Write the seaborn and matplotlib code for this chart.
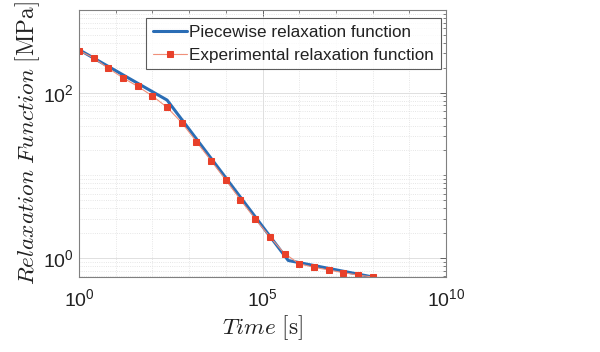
import numpy as np
import pandas as pd
import matplotlib
matplotlib.use("Agg")
import matplotlib.pyplot as plt
import matplotlib.ticker as mticker
import seaborn as sns

# Data
exp_time = [1, 2.51, 6.31, 15.8, 39.8, 100, 251, 631, 1585, 3981, 1.0e4,
            2.51e4, 6.31e4, 1.585e5, 3.98e5, 1.0e6, 2.51e6, 6.31e6, 1.585e7,
            3.98e7, 1.0e8]
exp_G = [323, 263, 197, 151, 119, 91.2, 66.4, 43.3, 25.5, 15.0, 8.75,
         5.05, 2.97, 1.80, 1.13, 0.853, 0.771, 0.716, 0.664, 0.622, 0.589]
pw_time = [1, 251, 5.01e5, 1.0e8]
pw_G = [331, 81.3, 0.933, 0.589]

series_names = ["Piecewise relaxation function", "Experimental relaxation function"]
x_ticks = [1, 1e5, 1e10]
y_ticks = [1, 100]

sns.set_theme(style="white")
plt.rcParams['font.family'] = ['Liberation Sans', 'DejaVu Sans']

fig = plt.figure(figsize=(6, 3.52), dpi=100)
ax = fig.add_axes([0.1317, 0.2131, 0.6117, 0.7585])
ax.set_xscale('log')
ax.set_yscale('log')

df_pw = pd.DataFrame({"t": pw_time, "G": pw_G})
df_exp = pd.DataFrame({"t": exp_time, "G": exp_G})

sns.lineplot(data=df_pw, x="t", y="G", ax=ax, color="#2a6db5", linewidth=2.2,
             label=series_names[0], estimator=None, sort=False)
sns.lineplot(data=df_exp, x="t", y="G", ax=ax, color="#f0907a", linewidth=0.8,
             marker='s', markersize=4.6, markerfacecolor="#e8402a",
             markeredgecolor="#e8402a", label=series_names[1],
             estimator=None, sort=False)

ax.set_xlim(1, 1e10)
ax.set_ylim(min(exp_G), 1000)

ax.xaxis.set_major_locator(mticker.FixedLocator(x_ticks))
ax.yaxis.set_major_locator(mticker.FixedLocator(y_ticks))
ax.xaxis.set_major_formatter(mticker.LogFormatterSciNotation())
ax.yaxis.set_major_formatter(mticker.LogFormatterSciNotation())
ax.xaxis.set_minor_locator(mticker.LogLocator(base=10, subs=(1.0,), numticks=20))
ax.yaxis.set_minor_locator(mticker.LogLocator(base=10, subs=np.arange(1, 10), numticks=20))
ax.xaxis.set_minor_formatter(mticker.NullFormatter())
ax.yaxis.set_minor_formatter(mticker.NullFormatter())

ax.tick_params(which='both', direction='in', top=True, right=True,
               color='#4d4d4d', labelsize=14, labelcolor='#222222')
ax.tick_params(which='major', length=4, width=0.6)
ax.tick_params(which='minor', length=2.5, width=0.5)
ax.tick_params(axis='x', pad=8)

ax.grid(which='major', color='#e0e0e0', linewidth=0.7, linestyle='-')
ax.grid(which='minor', color='#dedede', linewidth=0.6, linestyle=':')
ax.set_axisbelow(True)

for s in ax.spines.values():
    s.set_color('#808080')
    s.set_linewidth(0.8)

ax.set_xlabel(r'$Time\ [\mathrm{s}]$', math_fontfamily='cm', fontsize=16.8,
              color='#222222', labelpad=2)
ax.set_ylabel(r'$Relaxation\ Function\ [\mathrm{MPa}]$', math_fontfamily='cm',
              fontsize=16.8, color='#222222', labelpad=1)

leg = ax.legend(loc='upper right', bbox_to_anchor=(0.986, 0.97), fontsize=12.3,
                frameon=True, fancybox=False, edgecolor='#333333',
                handlelength=2.0, handletextpad=0.15, borderpad=0.4,
                labelspacing=0.45, borderaxespad=0.0)
leg.get_frame().set_linewidth(0.8)
for t in leg.get_texts():
    t.set_color('#222222')

fig.savefig("out.png", dpi=100)
